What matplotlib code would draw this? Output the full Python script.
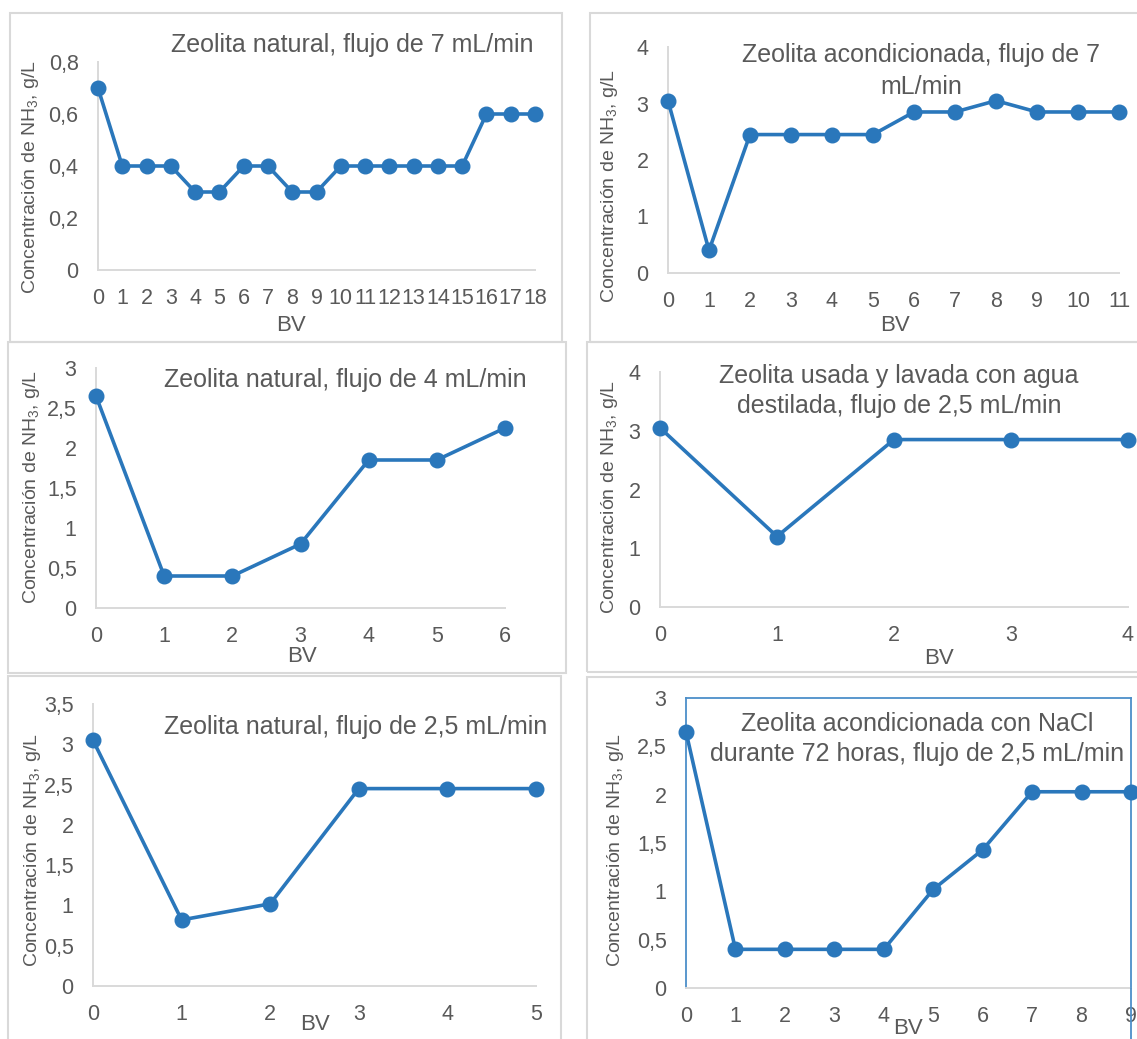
import matplotlib
matplotlib.use("Agg")
import matplotlib.pyplot as plt
from matplotlib.patches import Rectangle
from matplotlib.lines import Line2D

plt.rcParams['font.family'] = ['Liberation Sans', 'DejaVu Sans']
plt.rcParams['mathtext.default'] = 'regular'

W, H = 1137, 1039
LINE = '#2A77BB'
TXT = '#595959'
GRID = '#D9D9D9'

# ---------------- data ----------------
bv1 = list(range(19))
c1 = [0.7, 0.4, 0.4, 0.4, 0.3, 0.3, 0.4, 0.4, 0.3, 0.3, 0.4, 0.4, 0.4, 0.4, 0.4, 0.4, 0.6, 0.6, 0.6]
yt1 = [0, 0.2, 0.4, 0.6, 0.8]
yl1 = ['0', '0,2', '0,4', '0,6', '0,8']
title1 = 'Zeolita natural, flujo de 7 mL/min'

bv2 = list(range(12))
c2 = [3.05, 0.4, 2.45, 2.45, 2.45, 2.45, 2.85, 2.85, 3.05, 2.85, 2.85, 2.85]
yt2 = [0, 1, 2, 3, 4]
yl2 = ['0', '1', '2', '3', '4']
title2 = 'Zeolita acondicionada, flujo de 7\nmL/min'

bv3 = list(range(7))
c3 = [2.65, 0.4, 0.4, 0.8, 1.85, 1.85, 2.25]
yt3 = [0, 0.5, 1, 1.5, 2, 2.5, 3]
yl3 = ['0', '0,5', '1', '1,5', '2', '2,5', '3']
title3 = 'Zeolita natural, flujo de 4 mL/min'

bv4 = list(range(5))
c4 = [3.05, 1.2, 2.85, 2.85, 2.85]
yt4 = [0, 1, 2, 3, 4]
yl4 = ['0', '1', '2', '3', '4']
title4 = 'Zeolita usada y lavada con agua\ndestilada, flujo de 2,5 mL/min'

bv5 = list(range(6))
c5 = [3.05, 0.82, 1.02, 2.45, 2.45, 2.45]
yt5 = [0, 0.5, 1, 1.5, 2, 2.5, 3, 3.5]
yl5 = ['0', '0,5', '1', '1,5', '2', '2,5', '3', '3,5']
title5 = 'Zeolita natural, flujo de 2,5 mL/min'

bv6 = list(range(10))
c6 = [2.65, 0.4, 0.4, 0.4, 0.4, 1.02, 1.43, 2.03, 2.03, 2.03]
yt6 = [0, 0.5, 1, 1.5, 2, 2.5, 3]
yl6 = ['0', '0,5', '1', '1,5', '2', '2,5', '3']
title6 = 'Zeolita acondicionada con NaCl\ndurante 72 horas, flujo de 2,5 mL/min'

ylabel = 'Concentración de NH$_3$, g/L'
xlabel = 'BV'

# ---------------- layout ----------------
fig = plt.figure(figsize=(W / 100, H / 100), dpi=100)
fig.patch.set_facecolor('white')


def fx(px):
    return px / W


def fy(py):
    return 1 - py / H


# panel frames (x0, y0, x1, y1) in pixels
frames = [(10, 13, 562, 342), (590, 13, 1145, 342),
          (8, 342, 566, 673), (587, 342, 1145, 672),
          (8, 676, 561, 1045), (587, 677, 1145, 1045)]
for x0, y0, x1, y1 in frames:
    fig.add_artist(Rectangle((fx(x0), fy(y1)), fx(x1 - x0), (y1 - y0) / H,
                             transform=fig.transFigure, fill=False,
                             edgecolor=GRID, linewidth=1.5, zorder=0))

panels = [
    dict(x=bv1, y=c1, yt=yt1, yl=yl1, title=title1, box=(98, 535, 62, 270),
         tpos=(352, 45), ls=1.2, ypos=(31, 177), xpos=(291, 325)),
    dict(x=bv2, y=c2, yt=yt2, yl=yl2, title=title2, box=(668, 1119, 47, 273),
         tpos=(921, 71), ls=1.45, ypos=(610, 186), xpos=(895, 325)),
    dict(x=bv3, y=c3, yt=yt3, yl=yl3, title=title3, box=(96, 505, 368, 608),
         tpos=(345, 380), ls=1.2, ypos=(32, 487), xpos=(302, 656)),
    dict(x=bv4, y=c4, yt=yt4, yl=yl4, title=title4, box=(660, 1128, 372, 607),
         tpos=(899, 391), ls=1.3, ypos=(610, 497), xpos=(939, 658)),
    dict(x=bv5, y=c5, yt=yt5, yl=yl5, title=title5, box=(93, 536, 704, 986),
         tpos=(356, 727), ls=1.2, ypos=(33, 850), xpos=(315, 1024)),
    dict(x=bv6, y=c6, yt=yt6, yl=yl6, title=title6, box=(686, 1131, 698, 988),
         tpos=(917, 739), ls=1.3, ypos=(616, 850), xpos=(908, 1029)),
]

for i, p in enumerate(panels):
    lx, rx, ty, by = p['box']
    ax = fig.add_axes([fx(lx), fy(by), fx(rx - lx), (by - ty) / H])
    ax.set_facecolor('none')
    ax.plot(p['x'], p['y'], color=LINE, linewidth=2.6, marker='o',
            markersize=10.5, markerfacecolor=LINE, markeredgecolor=LINE,
            clip_on=False, zorder=5)
    ax.set_xlim(p['x'][0], p['x'][-1])
    ax.set_ylim(p['yt'][0], p['yt'][-1])
    ax.set_xticks(p['x'])
    ax.set_xticklabels([str(v) for v in p['x']])
    ax.set_yticks(p['yt'])
    ax.set_yticklabels(p['yl'])
    ax.tick_params(axis='x', length=0, pad=13, labelsize=15.5, labelcolor=TXT)
    ax.tick_params(axis='y', length=0, pad=14, labelsize=15.5, labelcolor=TXT)
    for s in ['top', 'right']:
        ax.spines[s].set_visible(False)
    for s in ['left', 'bottom']:
        ax.spines[s].set_color(GRID)
        ax.spines[s].set_linewidth(1.4)
    if i == 5:
        for s in ['top', 'right', 'left']:
            ax.spines[s].set_visible(True)
            ax.spines[s].set_color('#4C8FC9')
            ax.spines[s].set_linewidth(1.3)
        fig.add_artist(Line2D([fx(rx), fx(rx)], [fy(by), 0],
                              transform=fig.transFigure, color='#4C8FC9',
                              linewidth=1.3))
    fig.text(fx(p['tpos'][0]), fy(p['tpos'][1]), p['title'], ha='center',
             va='center', fontsize=18, color=TXT, linespacing=p['ls'], zorder=10)
    fig.text(fx(p['ypos'][0]), fy(p['ypos'][1]), ylabel, rotation=90,
             ha='center', va='center', fontsize=14, color=TXT)
    fig.text(fx(p['xpos'][0]), fy(p['xpos'][1]), xlabel, ha='center',
             va='center', fontsize=16, color=TXT)

fig.savefig('out.png', dpi=100, facecolor='white')
